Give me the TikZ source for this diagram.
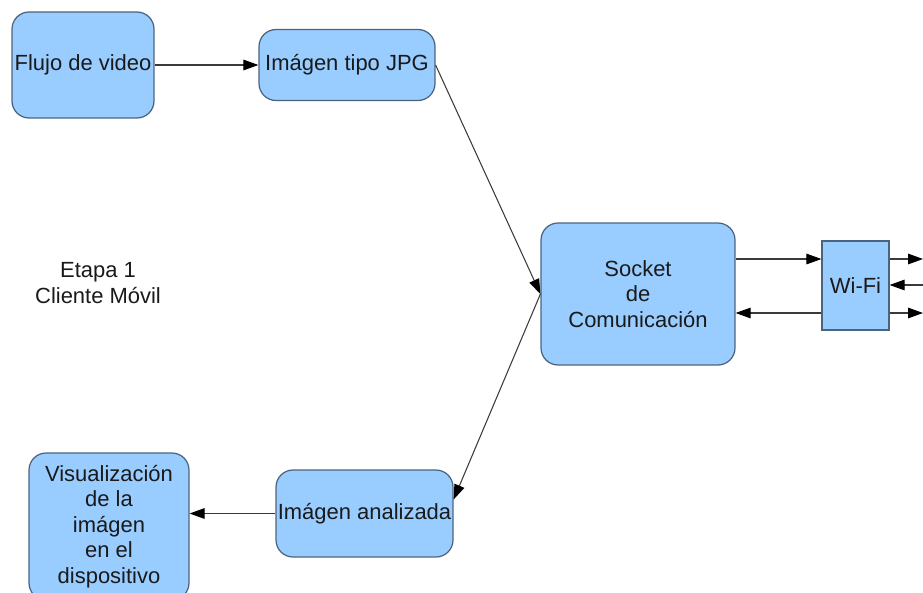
\documentclass[tikz,border=0pt]{standalone}
\usepackage{fontspec}
\setmainfont{Liberation Sans}
\usetikzlibrary{arrows.meta}
\definecolor{cajaazul}{HTML}{99CCFF}
\definecolor{bordeazul}{HTML}{4A6480}
\definecolor{linea}{HTML}{3A3A3A}
\definecolor{texto}{HTML}{1A1A1A}
\begin{document}
\begin{tikzpicture}[x=0.02cm,y=-0.02cm,
  every node/.style={font=\fontsize{12.5}{14.5}\selectfont,text=texto,align=center,inner sep=0pt},
  caja/.style={draw=bordeazul,line width=0.7pt,fill=cajaazul,rounded corners=0.34cm},
  flecha/.style={draw=linea,line width=0.6pt,-{Triangle[length=8.5pt,width=6pt,color=black]}}]
\useasboundingbox (0,0) rectangle (923,592);
\clip (0,0) rectangle (923,592);
% capture side
\node[caja,minimum width=2.84cm,minimum height=2.12cm] (flujo) at (83,65) {Flujo de video};
\node[caja,minimum width=3.52cm,minimum height=1.42cm] (jpg) at (347,65) {Imágen tipo JPG};
% socket and wifi link
\node[caja,minimum width=3.88cm,minimum height=2.84cm] (soc) at (638,294) {Socket\\de\\Comunicación};
\node[draw=bordeazul,line width=0.7pt,fill=cajaazul,minimum width=1.34cm,minimum height=1.78cm] (wifi) at (855.5,285.5) {Wi-Fi};
% result side
\node[caja,minimum width=3.54cm,minimum height=1.74cm] (ana) at (364.5,513.5) {Imágen analizada};
\node[caja,minimum width=3.2cm,minimum height=2.94cm] (vis) at (109,526.5) {Visualización\\de la\\imágen\\en el\\dispositivo};
\node (etapa) at (98,283) {Etapa 1\\Cliente Móvil};
% free ends on the right
\coordinate (r1) at (923,259);
\coordinate (r2) at (923,285);
\coordinate (r3) at (923,313);
% connectors
\draw[flecha] (flujo.east) -- (jpg.west);
\draw[flecha] (jpg.east) -- (soc.west);
\draw[flecha] (soc.west) -- ([yshift=0.28cm]ana.east);
\draw[flecha] (ana.west) -- (ana.west -| vis.east);
\draw[flecha] ([yshift=0.7cm]soc.east) -- ([yshift=0.7cm]soc.east -| wifi.west);
\draw[flecha] ([yshift=-0.38cm]soc.east -| wifi.west) -- ([yshift=-0.38cm]soc.east);
\draw[flecha] (wifi.east |- r1) -- (r1);
\draw[flecha] (r2) -- (wifi.east |- r2);
\draw[flecha] (wifi.east |- r3) -- (r3);
\end{tikzpicture}
\end{document}
